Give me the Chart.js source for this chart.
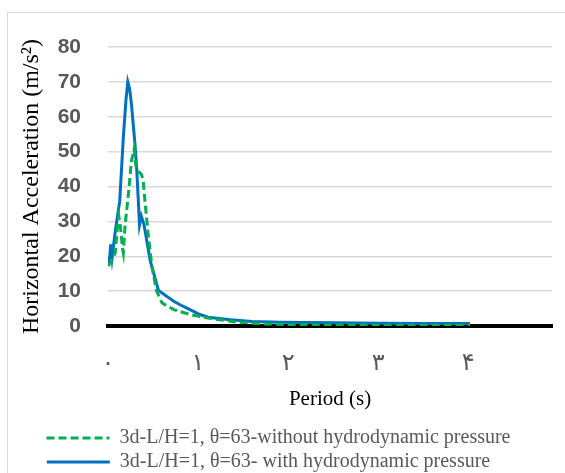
<!DOCTYPE html>
<html>
<head>
<meta charset="utf-8">
<script src="https://cdn.jsdelivr.net/npm/chart.js@4/dist/chart.umd.min.js"></script>
<style>
  body { margin: 0; background: #fff; }
  #wrap { position: relative; width: 565px; height: 473px; overflow: hidden; }
  #frame { position: absolute; left: 7px; top: 12px; width: 620px; height: 520px; border: 1.5px solid #d9d9d9; }
  #chart { position: absolute; left: 0; top: 0; }
</style>
</head>
<body>
<div id="wrap">
  <div id="frame"></div>
  <canvas id="chart" width="565" height="482"></canvas>
</div>
<script>
// --- Data ---
const periodWith = [0, 0.02, 0.03, 0.045, 0.08, 0.13, 0.17, 0.2, 0.22, 0.24, 0.26, 0.3, 0.32, 0.35, 0.37, 0.4, 0.47, 0.56, 0.73, 0.8, 0.91, 1.02, 1.11, 1.36, 1.6, 1.91, 2.5, 3.02, 3.5, 4.02];
const accelWith = [18.1, 20, 23.4, 19.5, 27, 35.8, 54, 65, 70, 68, 63.7, 52, 44.5, 29, 31.5, 29, 18.6, 10.2, 7.1, 6.1, 4.7, 3.3, 2.5, 1.8, 1.3, 1.05, 0.9, 0.8, 0.75, 0.7];

const periodWithout = [0, 0.04, 0.08, 0.1, 0.12, 0.14, 0.16, 0.17, 0.19, 0.23, 0.26, 0.29, 0.31, 0.33, 0.37, 0.39, 0.41, 0.45, 0.49, 0.54, 0.6, 0.73, 0.91, 1.11, 1.4, 1.7, 2.0, 2.5, 3.0, 3.5, 4.02];
const accelWithout = [17.2, 18.6, 21, 27, 31.5, 28, 22.4, 21, 29, 38.7, 47.3, 50.7, 46, 44.5, 43.5, 42, 35.8, 25.3, 16.7, 10, 6.6, 4.7, 3.3, 2.3, 1.2, 0.6, 0.4, 0.3, 0.25, 0.2, 0.2];

const xTickLabels = ['۰', '۱', '۲', '۳', '۴'];
// trailing spaces keep both legend rows starting at the same x
const seriesNames = [
  '3d-L/H=1, θ=63-without hydrodynamic pressure  ',
  '3d-L/H=1, θ=63- with hydrodynamic pressure      '
];

const toPoints = (xs, ys) => xs.map((x, i) => ({ x: x, y: ys[i] }));

const serif = "'Liberation Serif', 'Times New Roman', serif";

new Chart(document.getElementById('chart'), {
  type: 'scatter',
  data: {
    datasets: [
      {
        label: seriesNames[0],
        data: toPoints(periodWithout, accelWithout),
        showLine: true,
        borderColor: '#00B050',
        backgroundColor: '#00B050',
        borderWidth: 3,
        borderDash: [8, 4],
        pointRadius: 0,
        tension: 0
      },
      {
        label: seriesNames[1],
        data: toPoints(periodWith, accelWith),
        showLine: true,
        borderColor: '#0070C0',
        backgroundColor: '#0070C0',
        borderWidth: 3,
        pointRadius: 0,
        tension: 0
      }
    ]
  },
  options: {
    responsive: false,
    animation: false,
    layout: { padding: { left: 15, right: 13, top: 47, bottom: 0 } },
    plugins: {
      tooltip: { enabled: false },
      legend: {
        position: 'bottom',
        labels: {
          usePointStyle: true,
          pointStyle: 'line',
          pointStyleWidth: 63,
          padding: 4,
          color: '#595959',
          font: { family: serif, size: 20 },
          generateLabels: (chart) => {
            const items = Chart.defaults.plugins.legend.labels.generateLabels(chart);
            items.forEach((item, i) => {
              item.lineDash = chart.data.datasets[i].borderDash || [];
              item.lineWidth = 3;
            });
            return items;
          }
        }
      }
    },
    scales: {
      x: {
        type: 'linear',
        min: 0,
        max: 4.93,
        afterFit: (scale) => {
          scale.height = 98;
          scale.paddingLeft = 0;
          scale.paddingRight = 0;
        },
        grid: { display: false, drawTicks: false },
        border: { display: true, color: '#000', width: 4 },
        ticks: {
          stepSize: 1,
          padding: 23,
          color: '#595959',
          font: { family: "'DejaVu Sans', serif", size: 24 },
          callback: (v) => Number.isInteger(v) ? xTickLabels[v] : ''
        },
        title: {
          display: true,
          text: 'Period (s)',
          color: '#000',
          font: { family: serif, size: 21 },
          padding: { top: 4, bottom: 12 }
        }
      },
      y: {
        min: 0,
        max: 80,
        afterFit: (scale) => { scale.width = 93; },
        grid: {
          drawTicks: false,
          lineWidth: 1.5,
          color: (ctx) => ctx.tick && ctx.tick.value === 0 ? 'rgba(0,0,0,0)' : '#d9d9d9'
        },
        border: { display: false },
        ticks: {
          stepSize: 10,
          padding: 27,
          color: '#595959',
          font: { family: "'Liberation Sans', Arial, sans-serif", size: 21, weight: 'bold' }
        },
        title: {
          display: true,
          text: 'Horizontal Acceleration (m/s²)',
          color: '#000',
          font: { family: serif, size: 24 },
          padding: { top: 2, bottom: 4 }
        }
      }
    }
  }
});
</script>
</body>
</html>
